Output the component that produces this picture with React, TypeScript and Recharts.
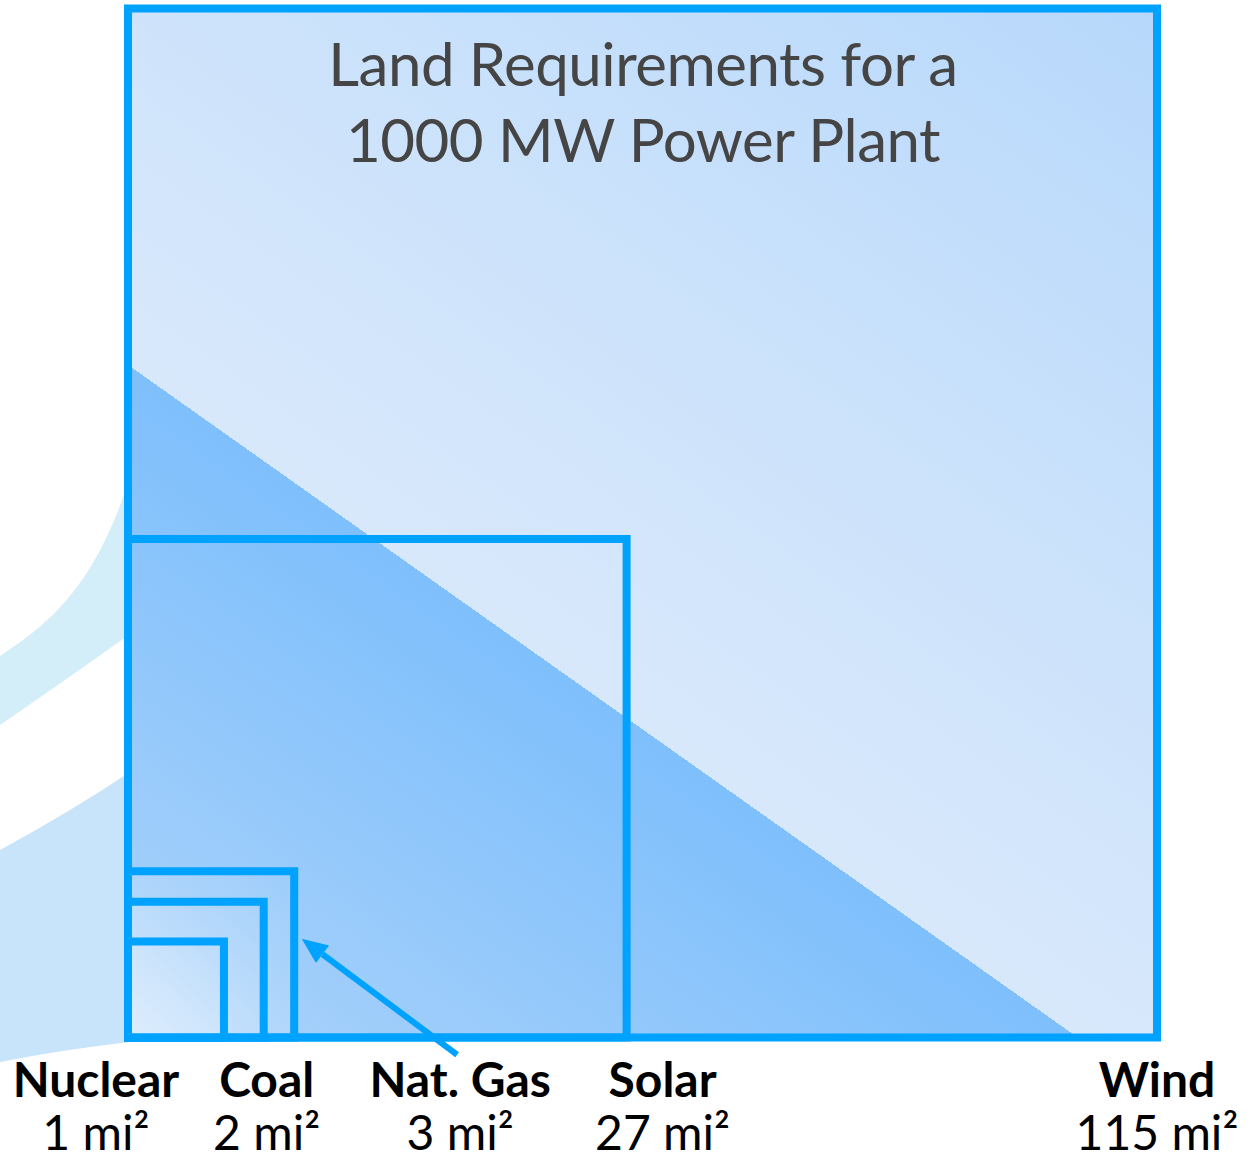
import React from "react";
import {
  ScatterChart,
  Scatter,
  XAxis,
  YAxis,
  ReferenceArea,
  ReferenceLine,
} from "recharts";

// land needed for a 1000 MW plant, square miles
const sources = ["Nuclear", "Coal", "Nat. Gas", "Solar", "Wind"];
const landArea = [1, 2, 3, 27, 115];
const areaLabels = ["1 mi²", "2 mi²", "3 mi²", "27 mi²", "115 mi²"];

// each square's side is the square root of its area
const sides = landArea.map((a) => Math.sqrt(a));
const maxSide = Math.sqrt(115);

// label nudges (px) from each square's right edge
const labelShift = [-128, 3, 166, 36, 0];

// arrow pointing at the Nat. Gas square (data units)
const gasArrow = [
  { x: 3.43, y: -0.18 },
  { x: 1.81, y: 1.03 },
];

const BLUE = "#00a2ff";
const squareFills = [
  "url(#smallGlow)",
  "url(#smallGlow)",
  "url(#smallGlow)",
  "none",
  "url(#windFill)",
];

const W = 1253;
const H = 1164;

function SourceTick(props: any) {
  const { x, y, index } = props;
  const cx = x + labelShift[index];
  return (
    <g>
      <text
        x={cx}
        y={y + 59.5}
        textAnchor="middle"
        fontFamily="Lato, sans-serif"
        fontWeight={700}
        fontSize={48}
        fill="#000"
      >
        {sources[index]}
      </text>
      <text
        x={cx}
        y={y + 112}
        textAnchor="middle"
        fontFamily="Lato, sans-serif"
        fontWeight={400}
        fontSize={48}
        fill="#000"
      >
        {areaLabels[index]}
      </text>
    </g>
  );
}

function ArrowShape(props: any) {
  const { x1, y1, x2, y2 } = props;
  const ang = Math.atan2(y2 - y1, x2 - x1);
  const len = 26;
  const half = 11;
  const bx = x2 - len * Math.cos(ang);
  const by = y2 - len * Math.sin(ang);
  const px = -Math.sin(ang) * half;
  const py = Math.cos(ang) * half;
  return (
    <g>
      <line x1={x1} y1={y1} x2={bx} y2={by} stroke={BLUE} strokeWidth={6} />
      <polygon
        points={`${x2},${y2} ${bx + px},${by + py} ${bx - px},${by - py}`}
        fill={BLUE}
      />
    </g>
  );
}

export default function App() {
  const corners = sides.map((s, i) => ({ x: s, y: s, name: sources[i] }));
  return (
    <div style={{ position: "absolute", left: 0, top: 0, width: W, height: H }}>
      {/* slide background swooshes */}
      <svg
        width={W}
        height={H}
        style={{ position: "absolute", left: 0, top: 0 }}
      >
        <path
          d="M0,656 C45,626 95,590 130,476 L130,634 Q60,684 0,725 Z"
          fill="#d3eef9"
        />
        <path
          d="M0,850 Q70,812 130,772 L130,1042 Q60,1050 0,1062 Z"
          fill="#c8e4fa"
        />
      </svg>

      <div style={{ position: "absolute", left: 0, top: 0 }}>
        <ScatterChart
          width={W}
          height={H}
          margin={{ top: 8.5, right: 96, bottom: 6.5, left: 128 }}
        >
          <defs>
            <linearGradient
              id="windFill"
              x1={-0.309}
              y1={0.782}
              x2={0.497}
              y2={-0.356}
            >
              <stop offset={0} stopColor="#acd3fa" />
              <stop offset={0.383} stopColor="#7ebffc" />
              <stop offset={0.383} stopColor="#d8e8fb" />
              <stop offset={0.62} stopColor="#cde3fb" />
              <stop offset={1} stopColor="#b7d8fb" />
            </linearGradient>
            <linearGradient id="smallGlow" x1={0} y1={1} x2={1} y2={0}>
              <stop offset={0} stopColor="#ffffff" stopOpacity={0.26} />
              <stop offset={1} stopColor="#ffffff" stopOpacity={0.04} />
            </linearGradient>
          </defs>
          <XAxis
            type="number"
            dataKey="x"
            domain={[0, maxSide]}
            ticks={sides}
            interval={0}
            axisLine={false}
            tickLine={false}
            tickSize={0}
            tickMargin={0}
            height={120}
            tick={<SourceTick />}
            allowDataOverflow
          />
          <YAxis
            type="number"
            dataKey="y"
            domain={[0, maxSide]}
            hide
            width={0}
            allowDataOverflow
          />
          {[...sides.keys()].reverse().map((i) => (
            <ReferenceArea
              key={sources[i]}
              x1={0}
              x2={sides[i]}
              y1={0}
              y2={sides[i]}
              fill={squareFills[i]}
              fillOpacity={1}
              stroke={BLUE}
              strokeWidth={8}
              ifOverflow="visible"
            />
          ))}
          <ReferenceLine
            segment={gasArrow}
            ifOverflow="visible"
            shape={<ArrowShape />}
          />
          <Scatter
            data={corners}
            isAnimationActive={false}
            shape={() => <g />}
          />
        </ScatterChart>
      </div>

      <div
        style={{
          position: "absolute",
          left: 0,
          top: 25,
          width: 1286,
          textAlign: "center",
          fontFamily: "Lato, sans-serif",
          fontSize: 60,
          letterSpacing: "-0.5px",
          lineHeight: "76px",
          color: "#454545",
        }}
      >
        Land Requirements for a
        <br />
        1000 MW Power Plant
      </div>
    </div>
  );
}
